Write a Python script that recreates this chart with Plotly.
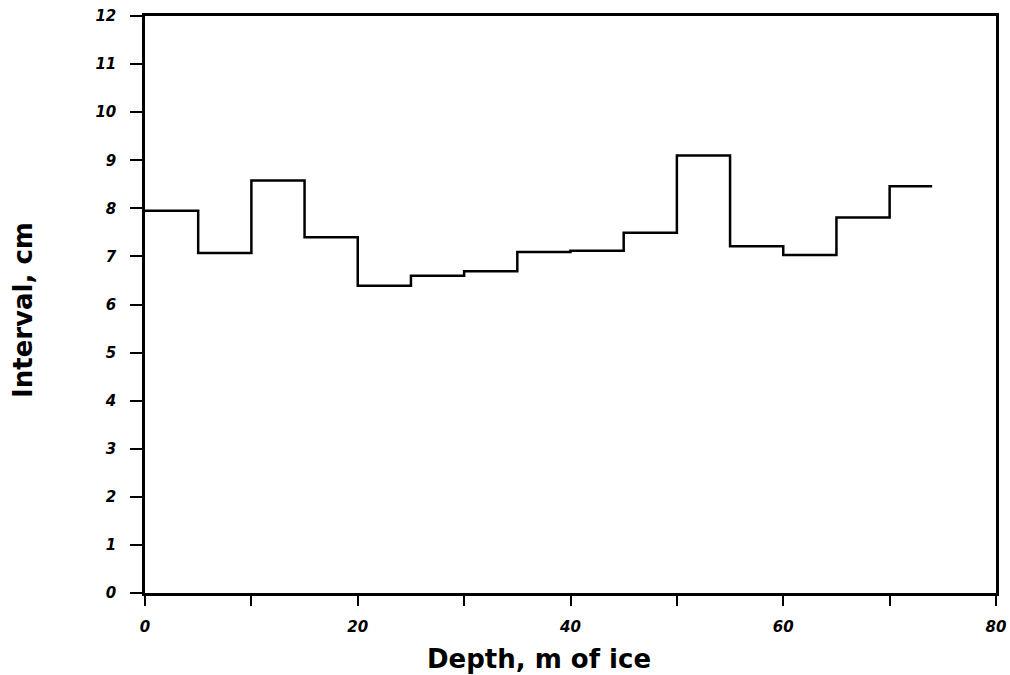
import plotly.graph_objects as go

depth_edges = [0, 5, 10, 15, 20, 25, 30, 35, 40, 45, 50, 55, 60, 65, 70, 74]
interval_cm = [7.95, 7.07, 8.58, 7.4, 6.39, 6.6, 6.69, 7.09, 7.12, 7.49, 9.1, 7.21, 7.03, 7.81, 8.46]

x_tickvals = [0, 10, 20, 30, 40, 50, 60, 70, 80]
x_ticktext = ["0", "", "20", "", "40", "", "60", "", "80"]
y_tickvals = list(range(0, 13))

fig = go.Figure()
fig.add_trace(go.Scatter(
    x=depth_edges,
    y=interval_cm + [interval_cm[-1]],
    mode="lines",
    line=dict(color="black", width=2.5, shape="hv"),
    showlegend=False,
))

tickfont = dict(family="DejaVu Sans", size=15, color="black", weight="bold", style="italic")
titlefont = dict(family="DejaVu Sans", size=26, color="black", weight="bold")

fig.update_layout(
    width=1010, height=675,
    margin=dict(l=145, r=14, t=16, b=82, autoexpand=False),
    paper_bgcolor="white", plot_bgcolor="white",
    xaxis=dict(
        range=[0, 80], tickvals=x_tickvals, ticktext=x_ticktext,
        ticks="outside", ticklen=10, tickwidth=2, tickcolor="black",
        showline=True, linewidth=2.5, linecolor="black", mirror=True,
        showgrid=False, zeroline=False, tickfont=tickfont,
        ticklabelstandoff=8, automargin=False,
    ),
    yaxis=dict(
        range=[0, 12], tickvals=y_tickvals,
        ticks="outside", ticklen=12, tickwidth=2, tickcolor="black",
        showline=True, linewidth=2.5, linecolor="black", mirror=True,
        showgrid=False, zeroline=False, tickfont=tickfont,
        ticklabelstandoff=11, automargin=False,
    ),
    annotations=[
        dict(text="Depth, m of ice", xref="paper", yref="paper",
             x=0.463, y=-0.114, xanchor="center", yanchor="middle",
             showarrow=False, font=titlefont),
        dict(text="Interval, cm", xref="paper", yref="paper",
             x=-0.1434, y=0.4905, xanchor="center", yanchor="middle",
             textangle=-90, showarrow=False, font=titlefont),
    ],
)

fig.write_html("out.html")
